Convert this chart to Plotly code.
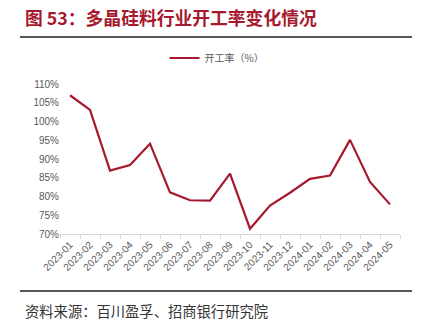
import plotly.graph_objects as go

# Monthly polysilicon industry operating rate (%)
months = ["2023-01", "2023-02", "2023-03", "2023-04", "2023-05", "2023-06",
          "2023-07", "2023-08", "2023-09", "2023-10", "2023-11", "2023-12",
          "2024-01", "2024-02", "2024-03", "2024-04", "2024-05"]
operating_rate = [107.0, 103.1, 86.9, 88.4, 94.1, 81.1, 79.0, 78.9, 86.1,
                  71.4, 77.6, 81.0, 84.7, 85.6, 95.1, 83.9, 77.9]

series_name = "开工率（%）"
title_text = "图 53：多晶硅料行业开工率变化情况"
source_text = "资料来源：百川盈孚、招商银行研究院"

RED = "#A6192E"
W, H = 428, 326
ML, MR, MT, MB = 60, 28, 84, 92
PW, PH = W - ML - MR, H - MT - MB


def px_x(x):
    return (x - ML) / PW


def px_y(y):
    return (H - MB - y) / PH


fig = go.Figure()
fig.add_trace(go.Scatter(
    x=months, y=operating_rate, mode="lines", name=series_name,
    line=dict(color=RED, width=2.2),
))

fig.update_layout(
    width=W, height=H,
    margin=dict(l=ML, r=MR, t=MT, b=MB),
    paper_bgcolor="white", plot_bgcolor="white",
    font=dict(family="Liberation Sans, Noto Sans CJK SC", color="#595959", size=10),
    showlegend=True,
    legend=dict(
        orientation="h", x=px_x(217), y=px_y(58), xanchor="center", yanchor="middle",
        font=dict(family="Noto Sans CJK SC", size=10, color="#595959"),
        bgcolor="rgba(0,0,0,0)", itemwidth=30,
    ),
    xaxis=dict(
        type="category", range=[-0.5, len(months) - 0.5],
        showgrid=False, zeroline=False,
        showline=True, linecolor="#d9d9d9", linewidth=1,
        ticks="outside", tickson="boundaries", ticklen=4, tickcolor="#d9d9d9",
        tickangle=-45, tickfont=dict(size=10, color="#595959"),
    ),
    yaxis=dict(
        range=[70, 110], dtick=5, tick0=70, ticksuffix="%",
        showgrid=False, zeroline=False, showline=False, ticks="",
        tickfont=dict(size=10, color="#595959"),
    ),
)

# Title, rules and source note
fig.add_annotation(
    text=title_text, xref="paper", yref="paper", x=px_x(23), y=px_y(17),
    xanchor="left", yanchor="middle", showarrow=False,
    font=dict(family="Noto Sans CJK SC", size=17.8, color=RED, weight="bold"),
)
fig.add_annotation(
    text=source_text, xref="paper", yref="paper", x=px_x(23), y=px_y(310),
    xanchor="left", yanchor="middle", showarrow=False,
    font=dict(family="Noto Sans CJK SC", size=14.3, color="#333333"),
)
for yy in (37, 291):
    fig.add_shape(type="line", xref="paper", yref="paper",
                  x0=px_x(20), x1=px_x(412), y0=px_y(yy), y1=px_y(yy),
                  line=dict(color="#222222", width=1.5))

fig.write_html("out.html")
